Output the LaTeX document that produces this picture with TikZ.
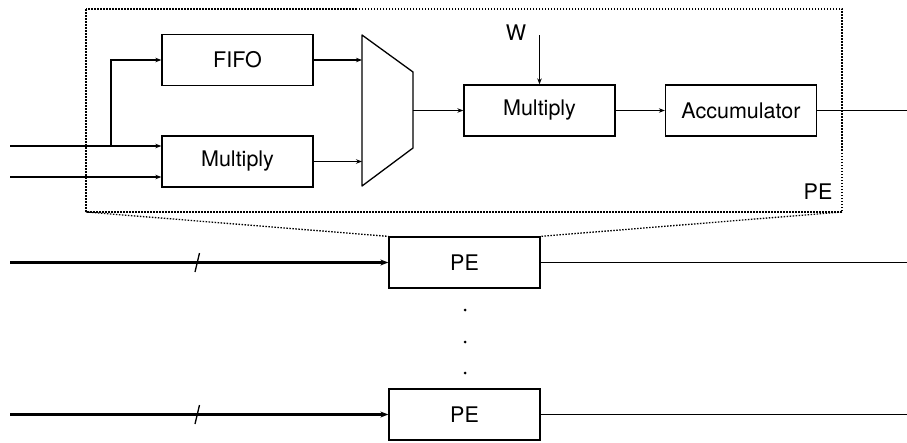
\documentclass[tikz,border=0pt]{standalone}
\usepackage{fontspec}
\setmainfont{TeX Gyre Heros}
\usetikzlibrary{arrows.meta}
\begin{document}
\begin{tikzpicture}[x=1pt,y=-1pt,
  block/.style={draw,line width=1.3pt,minimum width=151pt,minimum height=51pt,inner sep=0pt,font=\fontsize{21.5}{25}\selectfont},
  wire/.style={line width=1.3pt},
  conn/.style={wire,-{Stealth[length=6pt,width=4.5pt]}},
  bus/.style={line width=2.7pt,-{Stealth[length=8pt,width=6pt]}},
  frame/.style={line width=1.3pt,dash pattern=on 1.5pt off 1.5pt},
  lbl/.style={font=\fontsize{21.5}{25}\selectfont,inner sep=0pt}]
\useasboundingbox (0,0) rectangle (907,442);

% expanded view of one processing element
\draw[frame] (86,9) rectangle (842,212);
\node[lbl] (pelbl) at (818,192) {PE};

\node[block] (fifo) at (237.5,60) {FIFO};
\node[block] (mul1) at (237.5,161.5) {Multiply};
\node[block] (mul2) at (539.5,110.5) {Multiply};
\node[block] (acc) at (741,110.5) {Accumulator};

% multiplexer
\coordinate (mA) at (362,35);
\coordinate (mB) at (413,72);
\coordinate (mC) at (413,148);
\coordinate (mD) at (362,186);
\draw[wire,line join=round] (mA) -- (mB) -- (mC) -- (mD) -- cycle;
\coordinate (mout) at (413,110.5);

% inputs of the element
\coordinate (in1) at (10,146);
\coordinate (in2) at (10,177);
\coordinate (split) at (111,146);
\draw[conn] (in1) -- (in1 -| mul1.west);
\draw[conn] (in2) -- (in2 -| mul1.west);
\draw[conn] (split) |- (fifo.west);

\draw[conn] (fifo.east) -- (fifo.east -| mA);
\draw[conn] (mul1.east) -- (mul1.east -| mA);
\draw[conn] (mout) -- (mul2.west);
\draw[conn] (mul2.east) -- (acc.west);

\node[lbl] (w) at (516,33) {W};
\coordinate (wtop) at (539.5,35);
\draw[conn] (wtop) -- (mul2.north);

\coordinate (accout) at (907,110.5);
\draw[wire] (acc.east) -- (accout);

% array of processing elements
\node[block] (pe1) at (464.5,262.5) {PE};
\node[block] (pe2) at (464.5,414.5) {PE};

\draw[frame] (86,212) -- (pe1.north west);
\draw[frame] (842,212) -- (pe1.north east);

\coordinate (b1) at (10,262.5);
\coordinate (b2) at (10,414.5);
\draw[bus] (b1) -- (pe1.west);
\draw[bus] (b2) -- (pe2.west);
\draw[wire] (195,272) -- (199.5,253);
\draw[wire] (195,424) -- (199.5,405);

\coordinate (o1) at (907,262.5);
\coordinate (o2) at (907,414.5);
\draw[wire] (pe1.east) -- (o1);
\draw[wire] (pe2.east) -- (o2);

\foreach \yy [count=\i] in {310,342,373}
  \fill (465,\yy) circle (1.5pt);
\end{tikzpicture}
\end{document}
